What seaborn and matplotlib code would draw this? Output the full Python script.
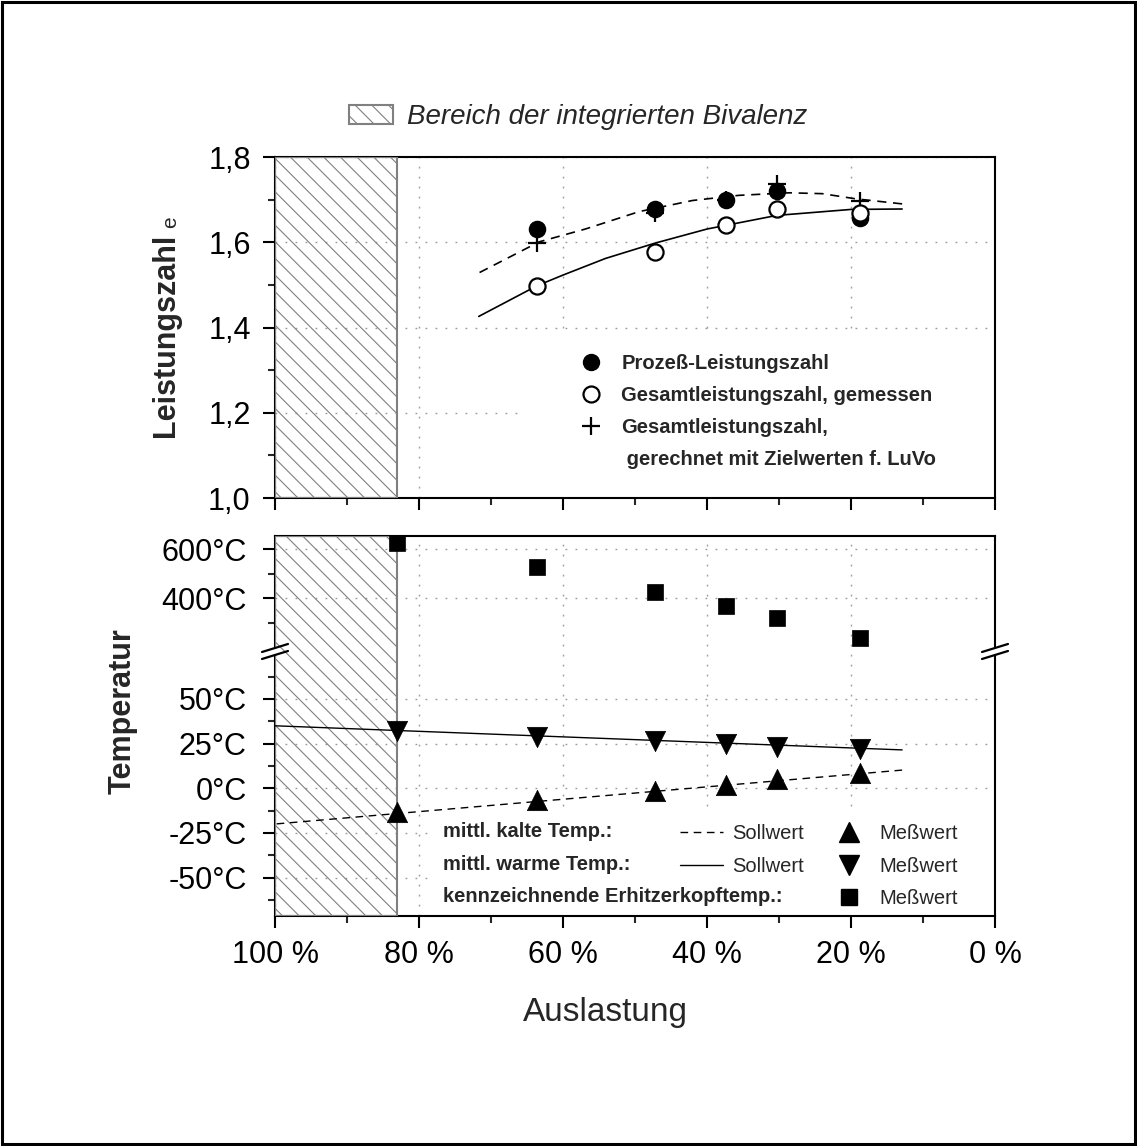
import numpy as np
import pandas as pd
import matplotlib
matplotlib.use("Agg")
import matplotlib.pyplot as plt
import seaborn as sns
from matplotlib.patches import Patch, Rectangle
from matplotlib.lines import Line2D
from matplotlib.ticker import FixedLocator, FixedFormatter
from matplotlib.font_manager import FontProperties

# ---------------- data ----------------
auslastung_top = [63.6, 47.2, 37.4, 30.3, 18.8]
prozess_lz = [1.631, 1.678, 1.700, 1.721, 1.657]
gesamt_gemessen = [1.498, 1.578, 1.641, 1.678, 1.669]
gesamt_ziel = [1.598, 1.668, 1.700, 1.737, 1.696]

fit_prozess_x = [71.7, 63.3, 56.9, 49.4, 42.0, 35.6, 28.6, 24.0, 19.4, 12.9]
fit_prozess_y = [1.528, 1.601, 1.631, 1.672, 1.698, 1.710, 1.716, 1.714, 1.702, 1.690]
fit_gesamt_x = [71.7, 63.6, 60.0, 54.1, 47.2, 40.0, 30.3, 20.0, 12.9]
fit_gesamt_y = [1.426, 1.498, 1.523, 1.562, 1.598, 1.631, 1.663, 1.677, 1.678]

auslastung_bottom = [83.0, 63.6, 47.2, 37.4, 30.3, 18.8]
kopf_temp = [625, 529, 427, 369, 317, 238]
warm_temp = [32.0, 29.0, 26.6, 24.8, 23.3, 22.2]
kalt_temp = [-13.5, -6.5, -1.5, 1.8, 5.3, 8.6]

soll_x = [100.0, 12.9]
soll_warm = [35.0, 21.5]
soll_kalt = [-20.0, 10.2]

bivalenz = [100.0, 83.0]

x_ticks = [100, 80, 60, 40, 20, 0]
x_minor = [90, 70, 50, 30, 10]
x_ticklabels = ["100 %", "80 %", "60 %", "40 %", "20 %", "0 %"]
lz_ticks = [1.0, 1.2, 1.4, 1.6, 1.8]
lz_minor = [1.1, 1.3, 1.5, 1.7]
lz_ticklabels = ["1,0", "1,2", "1,4", "1,6", "1,8"]
temp_ticks = [-50, -25, 0, 25, 50, 400, 600]
temp_minor = [-62.5, -37.5, -12.5, 12.5, 37.5, 62.5, 300, 500]
temp_ticklabels = ["-50°C", "-25°C", "0°C", "25°C", "50°C", "400°C", "600°C"]

# broken temperature axis
LOW_TOP = 76.6
HIGH_BOTTOM = 182.0
K = 0.137
TEMP_LIM = (-71.5, 654.0)


def fwd(v):
    v = np.asarray(v, dtype=float)
    return np.where(v <= LOW_TOP, v,
                    np.where(v >= HIGH_BOTTOM, LOW_TOP + (v - HIGH_BOTTOM) * K, LOW_TOP))


def inv(p):
    p = np.asarray(p, dtype=float)
    return np.where(p <= LOW_TOP, p, HIGH_BOTTOM + (p - LOW_TOP) / K)


# ---------------- style ----------------
sns.set_style("ticks")
plt.rcParams['font.family'] = ['Liberation Sans', 'DejaVu Sans']
plt.rcParams['hatch.linewidth'] = 0.8
plt.rcParams['axes.linewidth'] = 1.5

W, H = 1137, 1146
fig = plt.figure(figsize=(W / 100, H / 100), dpi=100)
fig.patch.set_facecolor('white')

ax1 = fig.add_axes([275 / W, 1 - 498 / H, 720 / W, 341 / H])
ax2 = fig.add_axes([275 / W, 1 - 916 / H, 720 / W, 380 / H])

grid_kw = dict(color='#9a9a9a', linestyle=(0, (1.3, 5.9)), linewidth=1.0)
dash = (0, (5.5, 4))

for ax in (ax1, ax2):
    ax.set_xlim(100, 0)
    ax.xaxis.set_major_locator(FixedLocator(x_ticks))
    ax.xaxis.set_minor_locator(FixedLocator(x_minor))
    ax.set_axisbelow(True)
    ax.grid(True, which='major', **grid_kw)
    ax.tick_params(which='major', direction='out', length=8.5, width=1.5,
                   labelsize=22, pad=9, colors='black')
    ax.tick_params(which='minor', direction='out', length=5, width=1.5)
    for s in ax.spines.values():
        s.set_linewidth(1.5)
        s.set_color('black')
    # hatched bivalence region
    ax.axvspan(bivalenz[1], bivalenz[0], facecolor='none', edgecolor='#808080',
               hatch='\\\\', linewidth=1.5, zorder=2.7)

# ---------------- top panel ----------------
ax1.set_ylim(1.0, 1.8)
ax1.yaxis.set_major_locator(FixedLocator(lz_ticks))
ax1.yaxis.set_minor_locator(FixedLocator(lz_minor))
ax1.yaxis.set_major_formatter(FixedFormatter(lz_ticklabels))
ax1.tick_params(axis='x', labelbottom=False)
ax1.add_patch(Rectangle((0.339, 0.0), 0.661, 0.49, transform=ax1.transAxes,
                        facecolor='white', edgecolor='none', zorder=1))

sns.lineplot(x=fit_prozess_x, y=fit_prozess_y, ax=ax1, color='black',
             linewidth=1.2, linestyle=dash, errorbar=None, zorder=3)
sns.lineplot(x=fit_gesamt_x, y=fit_gesamt_y, ax=ax1, color='black',
             linewidth=1.2, errorbar=None, zorder=3)
sns.scatterplot(x=auslastung_top, y=gesamt_ziel, ax=ax1, marker='+', s=160,
                color='black', linewidth=1.6, zorder=4)
sns.scatterplot(x=auslastung_top, y=prozess_lz, ax=ax1, marker='o', s=135,
                color='black', edgecolor='black', linewidth=1, zorder=5)
sns.scatterplot(x=auslastung_top, y=gesamt_gemessen, ax=ax1, marker='o', s=135,
                color='white', edgecolor='black', linewidth=1.6, zorder=6)
ax1.set_xlabel("")
ax1.set_ylabel("")

h_top = [
    Line2D([], [], linestyle='none', marker='o', markersize=11.5, color='black'),
    Line2D([], [], linestyle='none', marker='o', markersize=11.5,
           markerfacecolor='white', markeredgecolor='black', markeredgewidth=1.6),
    Line2D([], [], linestyle='none', marker='+', markersize=12.5, color='black',
           markeredgewidth=1.6),
    Line2D([], [], linestyle='none'),
]
l_top = ["Prozeß-Leistungszahl", "Gesamtleistungszahl, gemessen",
         "Gesamtleistungszahl,", " gerechnet mit Zielwerten f. LuVo"]
leg1 = ax1.legend(h_top, l_top, loc='upper left', bbox_to_anchor=(0.4167, 0.423),
                  frameon=False, prop=FontProperties(family=['Liberation Sans', 'DejaVu Sans'],
                                                     weight='bold', size=14.5),
                  handlelength=1.6, handletextpad=0.7, labelspacing=0.65,
                  borderpad=0, borderaxespad=0)
leg1.set_zorder(7)

# ---------------- bottom panel ----------------
ax2.set_yscale('function', functions=(fwd, inv))
ax2.set_ylim(*TEMP_LIM)
ax2.yaxis.set_major_locator(FixedLocator(temp_ticks))
ax2.yaxis.set_minor_locator(FixedLocator(temp_minor))
ax2.yaxis.set_major_formatter(FixedFormatter(temp_ticklabels))
ax2.xaxis.set_major_formatter(FixedFormatter(x_ticklabels))
ax2.tick_params(axis='y', which='major', pad=12)
ax2.add_patch(Rectangle((0.2125, 0.0), 0.7875, 0.271, transform=ax2.transAxes,
                        facecolor='white', edgecolor='none', zorder=1))

sns.lineplot(x=soll_x, y=soll_kalt, ax=ax2, color='black', linewidth=1.0,
             linestyle=dash, errorbar=None, zorder=3)
sns.lineplot(x=soll_x, y=soll_warm, ax=ax2, color='black', linewidth=1.0,
             errorbar=None, zorder=3)
sns.scatterplot(x=auslastung_bottom, y=kalt_temp, ax=ax2, marker='^', s=215,
                color='black', edgecolor='black', linewidth=0.5, zorder=5)
sns.scatterplot(x=auslastung_bottom, y=warm_temp, ax=ax2, marker='v', s=215,
                color='black', edgecolor='black', linewidth=0.5, zorder=5)
sns.scatterplot(x=auslastung_bottom, y=kopf_temp, ax=ax2, marker='s', s=130,
                color='black', edgecolor='black', linewidth=0.5, zorder=5,
                clip_on=False)
ax2.set_xlabel("")
ax2.set_ylabel("")
ax2.set_xlim(100, 0)

# row labels of the lower legend
bold14 = dict(weight='bold', size=14.5, ha='left', va='center',
              transform=ax2.transAxes, zorder=8)
ax2.text(0.2333, 0.2218, "mittl. kalte Temp.:", **bold14)
ax2.text(0.2333, 0.1368, "mittl. warme Temp.:", **bold14)
ax2.text(0.2333, 0.0500, "kennzeichnende Erhitzerkopftemp.:", **bold14)

h_bot = [
    Line2D([], [], color='black', linewidth=1.0, linestyle=dash),
    Line2D([], [], color='black', linewidth=1.0),
    Line2D([], [], linestyle='none'),
    Line2D([], [], linestyle='none', marker='^', markersize=14, color='black'),
    Line2D([], [], linestyle='none', marker='v', markersize=14, color='black'),
    Line2D([], [], linestyle='none', marker='s', markersize=11, color='black'),
]
l_bot = ["Sollwert", "Sollwert", "", "Meßwert", "Meßwert", "Meßwert"]
leg2 = ax2.legend(h_bot, l_bot, ncol=2, loc='upper left',
                  bbox_to_anchor=(0.5625, 0.2421), frameon=False,
                  prop=FontProperties(family=['Liberation Sans', 'DejaVu Sans'], size=14.5),
                  handlelength=2.14, handletextpad=0.45, columnspacing=1.15,
                  labelspacing=0.68, borderpad=0, borderaxespad=0)
leg2.set_zorder(8)

# axis break marks
p_lo, p_hi = float(fwd(TEMP_LIM[0])), float(fwd(TEMP_LIM[1]))
y_break = (LOW_TOP - p_lo) / (p_hi - p_lo)
ax_w_px, ax_h_px = 720.0, 380.0
for xb in (0.0, 1.0):
    ax2.plot([xb, xb], [y_break - 4 / ax_h_px, y_break + 4 / ax_h_px],
             transform=ax2.transAxes, color='white', linewidth=3, clip_on=False,
             zorder=9, solid_capstyle='butt')
    for off in (-3.5, 3.5):
        ax2.plot([xb - 13 / ax_w_px, xb + 13 / ax_w_px],
                 [y_break + (off - 4) / ax_h_px, y_break + (off + 4) / ax_h_px],
                 transform=ax2.transAxes, color='black', linewidth=1.6,
                 clip_on=False, zorder=10)

# ---------------- figure texts ----------------
fig.text(166 / W, 1 - 335 / H, "Leistungszahl", rotation=90, weight='bold',
         size=22, ha='center', va='center')
fig.text(171 / W, 1 - 222 / H, "e", rotation=90, size=15, ha='center', va='center')
fig.text(123 / W, 1 - 711 / H, "Temperatur", rotation=90, weight='bold',
         size=22, ha='center', va='center')
fig.text(605 / W, 1 - 1012 / H, "Auslastung", size=24, ha='center', va='center')

hatch_handle = Patch(facecolor='none', edgecolor='#808080', hatch='\\\\', linewidth=1.5)
fig.legend([hatch_handle], ["Bereich der integrierten Bivalenz"], loc='center left',
           bbox_to_anchor=(349 / W, 1 - 117 / H), frameon=False,
           prop=FontProperties(family=['Liberation Sans', 'DejaVu Sans'],
                               style='italic', size=20),
           handlelength=1.58, handleheight=0.68, handletextpad=0.5,
           borderpad=0, borderaxespad=0)

fig.add_artist(Rectangle((0.0015, 0.0015), 0.997, 0.997, transform=fig.transFigure,
                         fill=False, edgecolor='black', linewidth=2.2))

fig.savefig("out.png", dpi=100, facecolor='white')
